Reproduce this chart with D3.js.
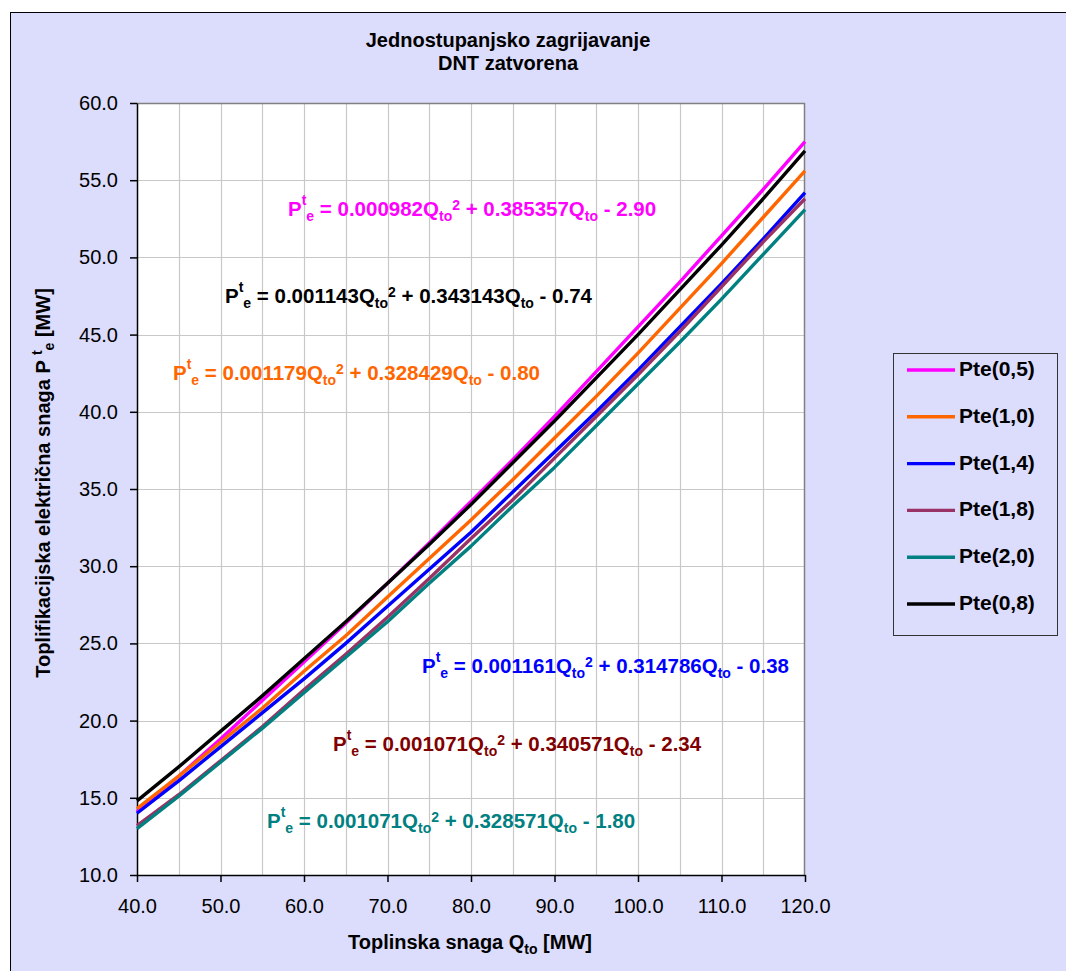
<!DOCTYPE html>
<html>
<head>
<meta charset="utf-8">
<script src="https://cdn.jsdelivr.net/npm/d3@7"></script>
<style>
    body { margin: 0; background: #ffffff; }
    svg text { font-family: Arial, "Liberation Sans", sans-serif; }
</style>
</head>
<body>
<div id="chart-area"></div>
<script>

// Toplinska snaga Q_to [MW]
var qto = [40, 45, 50, 55, 60, 65, 70, 75, 80, 85, 90, 95, 100, 105, 110, 115, 120];

// Pte series
var pte05 = [14.1, 16.4, 18.8, 21.3, 23.8, 26.3, 28.9, 31.5, 34.2, 36.9, 39.7, 42.6, 45.5, 48.4, 51.4, 54.4, 57.5];
var pte10 = [14.3, 16.4, 18.6, 20.8, 23.2, 25.5, 28.0, 30.5, 33.0, 35.6, 38.3, 41.0, 43.8, 46.7, 49.6, 52.6, 55.6];
var pte14 = [14.0, 16.1, 18.3, 20.5, 22.7, 25.0, 27.4, 29.8, 32.2, 34.8, 37.4, 40.0, 42.7, 45.5, 48.3, 51.2, 54.2];
var pte18 = [13.2, 15.2, 17.4, 19.6, 22.0, 24.3, 26.7, 29.2, 31.8, 34.3, 37.0, 39.7, 42.4, 45.2, 48.1, 51.0, 53.8];
var pte20 = [13.0, 15.1, 17.3, 19.5, 21.8, 24.1, 26.4, 28.9, 31.3, 33.9, 36.4, 39.1, 41.8, 44.5, 47.3, 50.2, 53.1];
var pte08 = [14.8, 17.0, 19.3, 21.6, 24.0, 26.4, 28.9, 31.4, 34.0, 36.7, 39.4, 42.2, 45.0, 47.9, 50.8, 53.8, 56.9];

var seriesNames = ["Pte(0,5)", "Pte(1,0)", "Pte(1,4)", "Pte(1,8)", "Pte(2,0)", "Pte(0,8)"];
var seriesValues = [pte05, pte10, pte14, pte18, pte20, pte08];
var seriesColors = ["#ff00ff", "#ff6600", "#0000ff", "#993366", "#008080", "#000000"];

var xTicks = [40, 50, 60, 70, 80, 90, 100, 110, 120];
var yTicks = [10, 15, 20, 25, 30, 35, 40, 45, 50, 55, 60];

// trend equations: P^t_e = a Q_to^2 + b Q_to - c
var eqA = ["0.000982", "0.001143", "0.001179", "0.001161", "0.001071", "0.001071"];
var eqB = ["0.385357", "0.343143", "0.328429", "0.314786", "0.340571", "0.328571"];
var eqC = ["2.90", "0.74", "0.80", "0.38", "2.34", "1.80"];
var eqColors = ["#ff00ff", "#000000", "#ff6600", "#0000ff", "#800000", "#008080"];


ChartVis = function (_parentElement) {
    this.parentElement = _parentElement;
    this.initVis();
}

ChartVis.prototype.initVis = function () {
    var vis = this;

    vis.margin = { top: 103, right: 261, bottom: 96, left: 137 };
    vis.width = 1066 - vis.margin.left - vis.margin.right;
    vis.height = 971 - vis.margin.top - vis.margin.bottom;

    vis.svgRoot = d3.select("#" + vis.parentElement).append("svg")
        .attr("width", 1066)
        .attr("height", 971);

    // chart area background + border
    vis.svgRoot.append("rect")
        .attr("x", 10.5).attr("y", 12.5)
        .attr("width", 1080).attr("height", 990)
        .attr("fill", "#dcdcfc")
        .attr("stroke", "#000").attr("stroke-width", 1);

    vis.svg = vis.svgRoot.append("g")
        .attr("transform", "translate(" + vis.margin.left + "," + vis.margin.top + ")");

    vis.x = d3.scaleLinear().domain([40, 120]).range([0, vis.width]);
    vis.y = d3.scaleLinear().domain([10, 60]).range([vis.height, 0]);

    vis.svg.append("rect")
        .attr("width", vis.width).attr("height", vis.height)
        .attr("fill", "#fff");

    vis.wrangleData();
}

ChartVis.prototype.wrangleData = function () {
    var vis = this;

    vis.displayData = seriesNames.map(function (name, i) {
        return {
            name: name,
            color: seriesColors[i],
            values: qto.map(function (q, k) { return { q: q, p: seriesValues[i][k] }; })
        };
    });

    vis.updateVis();
}

ChartVis.prototype.updateVis = function () {
    var vis = this;

    // gridlines every 5
    vis.svg.selectAll(".vgrid").data(d3.range(45, 120, 5)).enter().append("line")
        .attr("class", "vgrid")
        .attr("x1", d => Math.round(vis.x(d)) + 0.5).attr("x2", d => Math.round(vis.x(d)) + 0.5)
        .attr("y1", 0).attr("y2", vis.height)
        .attr("stroke", "#c8c8c8").attr("stroke-width", 1.2);

    vis.svg.selectAll(".hgrid").data(d3.range(15, 60, 5)).enter().append("line")
        .attr("class", "hgrid")
        .attr("y1", d => Math.round(vis.y(d)) + 0.5).attr("y2", d => Math.round(vis.y(d)) + 0.5)
        .attr("x1", 0).attr("x2", vis.width)
        .attr("stroke", "#c8c8c8").attr("stroke-width", 1.2);

    // top / right border of plot area
    vis.svg.append("path")
        .attr("d", "M0,0.5H" + (vis.width - 0.5) + "V" + vis.height)
        .attr("fill", "none").attr("stroke", "#808080").attr("stroke-width", 1.5);

    // axes
    var yAxis = d3.axisLeft(vis.y).tickValues(yTicks).tickSize(7).tickSizeOuter(0)
        .tickPadding(12).tickFormat(d3.format(".1f"));
    var xAxis = d3.axisBottom(vis.x).tickValues(xTicks).tickSize(7).tickSizeOuter(0)
        .tickFormat(d3.format(".1f"));

    var gy = vis.svg.append("g").call(yAxis);
    var gx = vis.svg.append("g").attr("transform", "translate(0," + vis.height + ")").call(xAxis);

    [gx, gy].forEach(function (g) {
        g.selectAll("path, line").attr("stroke", "#000").attr("stroke-width", 1.5);
        g.selectAll("text").attr("font-size", 20).attr("fill", "#000")
            .style("font-family", "Arial, 'Liberation Sans', sans-serif");
    });
    gx.selectAll("text").attr("y", 38).attr("dy", 0);

    // series lines
    var line = d3.line().x(d => vis.x(d.q)).y(d => vis.y(d.p));

    vis.svg.selectAll(".series").data(vis.displayData).enter().append("path")
        .attr("class", "series")
        .attr("d", d => line(d.values))
        .attr("fill", "none")
        .attr("stroke", d => d.color)
        .attr("stroke-width", 3.4)
        .attr("stroke-linejoin", "round");

    // equations
    var eqPos = [[288, 216], [225, 303], [173, 380], [422, 673], [333, 751], [267, 828]];
    eqA.forEach(function (a, i) {
        var t = vis.svgRoot.append("text")
            .attr("x", eqPos[i][0]).attr("y", eqPos[i][1])
            .attr("font-size", 20.5).attr("font-weight", "bold")
            .attr("fill", eqColors[i]);
        t.append("tspan").text("P");
        t.append("tspan").attr("font-size", 14).attr("dy", -11).text("t");
        t.append("tspan").attr("font-size", 14).attr("dy", 16).text("e");
        t.append("tspan").attr("dy", -5).text(" = " + a + "Q");
        t.append("tspan").attr("font-size", 14).attr("dy", 5).text("to");
        t.append("tspan").attr("font-size", 14).attr("dy", -11).text("2");
        t.append("tspan").attr("dy", 6).text(" + " + eqB[i] + "Q");
        t.append("tspan").attr("font-size", 14).attr("dy", 5).text("to");
        t.append("tspan").attr("dy", -5).text(" - " + eqC[i]);
    });

    // title
    vis.svgRoot.append("text")
        .attr("x", 508).attr("y", 47).attr("text-anchor", "middle")
        .attr("font-size", 20).attr("font-weight", "bold")
        .text("Jednostupanjsko zagrijavanje");
    vis.svgRoot.append("text")
        .attr("x", 508).attr("y", 70).attr("text-anchor", "middle")
        .attr("font-size", 20).attr("font-weight", "bold")
        .text("DNT zatvorena");

    // x axis title
    var xt = vis.svgRoot.append("text")
        .attr("x", 470).attr("y", 949).attr("text-anchor", "middle")
        .attr("font-size", 20).attr("font-weight", "bold");
    xt.append("tspan").text("Toplinska snaga Q");
    xt.append("tspan").attr("font-size", 14).attr("dy", 5).text("to");
    xt.append("tspan").attr("dy", -5).text(" [MW]");

    // y axis title
    var yt = vis.svgRoot.append("text")
        .attr("transform", "translate(50,483) rotate(-90)")
        .attr("text-anchor", "middle")
        .attr("font-size", 20).attr("font-weight", "bold");
    yt.append("tspan").text("Toplifikacijska električna snaga  P ");
    yt.append("tspan").attr("font-size", 14).attr("dy", -8).text("t");
    yt.append("tspan").attr("font-size", 14).attr("dy", 12).text("e");
    yt.append("tspan").attr("dy", -4).text("  [MW]");

    // legend
    var legend = vis.svgRoot.append("g");
    legend.append("rect")
        .attr("x", 893.5).attr("y", 353.5).attr("width", 164).attr("height", 282)
        .attr("fill", "#dcdcfc").attr("stroke", "#333").attr("stroke-width", 1);

    var items = legend.selectAll(".item").data(vis.displayData).enter().append("g")
        .attr("class", "item")
        .attr("transform", (d, i) => "translate(0," + (376 + i * 46.8) + ")");
    items.append("line")
        .attr("x1", 907).attr("x2", 955).attr("y1", -6).attr("y2", -6)
        .attr("stroke", d => d.color).attr("stroke-width", 3.4);
    items.append("text")
        .attr("x", 959).attr("y", 0)
        .attr("font-size", 21).attr("font-weight", "bold")
        .text(d => d.name);
}

new ChartVis("chart-area");

</script>
</body>
</html>
